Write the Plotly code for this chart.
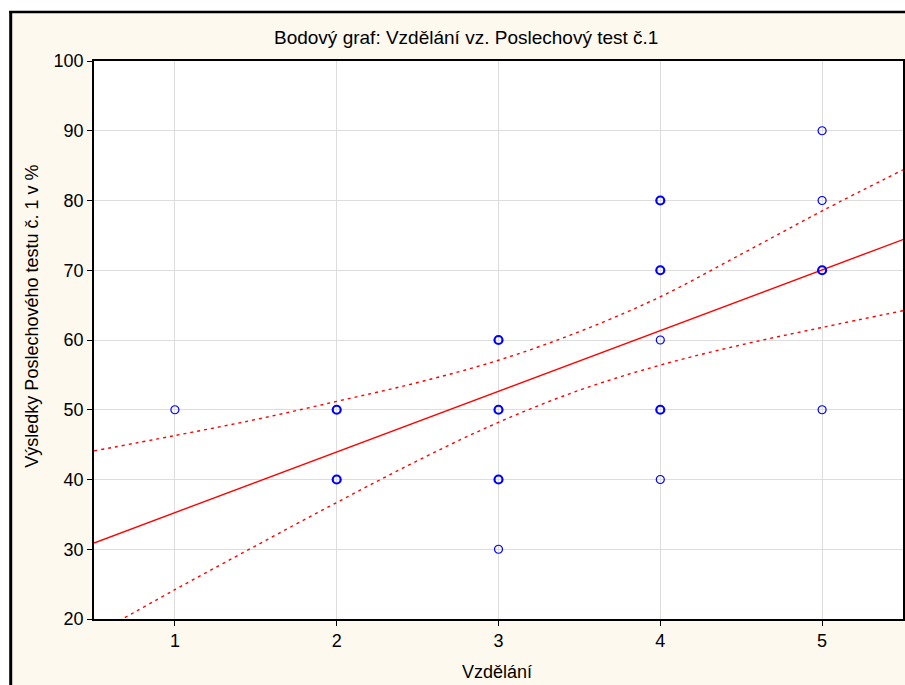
import plotly.graph_objects as go

# Data
edu_x = [1, 2, 2, 3, 3, 3, 3, 4, 4, 4, 4, 4, 5, 5, 5, 5]
score_y = [50, 50, 40, 60, 50, 40, 30, 80, 70, 60, 50, 40, 90, 80, 70, 50]
point_count = [1, 2, 2, 2, 2, 2, 1, 2, 2, 1, 2, 1, 1, 1, 2, 1]

fit_x = [0.5, 5.5]
fit_y = [30.9, 74.4]

band_x = [0.5, 1.0, 1.5, 2.0, 2.5, 3.0, 3.5, 4.0, 4.5, 5.0, 5.5]
band_upper = [44.1, 46.3, 48.6, 51.2, 53.9, 57.1, 61.2, 66.2, 72.3, 78.5, 84.4]
band_lower = [17.7, 24.2, 30.5, 36.7, 42.7, 48.2, 52.8, 56.4, 59.3, 61.8, 64.2]

x_ticks = [1, 2, 3, 4, 5]
y_ticks = [20, 30, 40, 50, 60, 70, 80, 90, 100]

title_text = "Bodový graf: Vzdělání vz. Poslechový test č.1"
x_title = "Vzdělání"
y_title = "Výsledky Poslechového testu č. 1 v %"

FONT = "Liberation Sans, Arial, sans-serif"
CREAM = "#FDF9EF"

fig = go.Figure()

fig.add_trace(go.Scatter(x=band_x, y=band_upper, mode="lines", line=dict(color="#FF0000", width=1.4, dash="3px,4px", shape="spline"), hoverinfo="skip", showlegend=False))
fig.add_trace(go.Scatter(x=band_x, y=band_lower, mode="lines", line=dict(color="#FF0000", width=1.4, dash="3px,4px", shape="spline"), hoverinfo="skip", showlegend=False))
fig.add_trace(go.Scatter(x=fit_x, y=fit_y, mode="lines", line=dict(color="#FF0000", width=1.4), showlegend=False))
fig.add_trace(go.Scatter(
    x=edu_x, y=score_y, mode="markers",
    marker=dict(symbol="circle-open", size=8, color="#0000FF",
                line=dict(color="#0000FF", width=[1.2 if c == 1 else 2.2 for c in point_count])),
    showlegend=False))

W, H = 905, 685
L, T, R, B = 94, 61, 0, 66
pw, ph = W - L - R, H - T - B

def px(x):
    return (x - L) / pw

def py(y):
    return (H - B - y) / ph

fig.update_layout(
    width=W, height=H,
    margin=dict(l=L, r=R, t=T, b=B),
    paper_bgcolor=CREAM, plot_bgcolor="white",
    font=dict(family=FONT, size=18, color="black"),
    xaxis=dict(range=[0.5, 5.5], tickvals=x_ticks, ticks="outside", ticklen=5, tickcolor="black",
               showline=True, linecolor="black", linewidth=1.5, mirror=True,
               showgrid=True, gridcolor="#DDDDDD", gridwidth=1, zeroline=False,
               tickfont=dict(size=18)),
    yaxis=dict(range=[20, 100], tickvals=y_ticks, ticks="outside", ticklen=5, tickcolor="black",
               showline=True, linecolor="black", linewidth=1.5, mirror=True,
               showgrid=True, gridcolor="#DDDDDD", gridwidth=1, zeroline=False,
               tickfont=dict(size=18)),
    shapes=[
        dict(type="rect", xref="paper", yref="paper", x0=px(-5), x1=px(9), y0=py(700), y1=py(-5), fillcolor="white", line=dict(width=0), layer="below"),
        dict(type="rect", xref="paper", yref="paper", x0=px(-5), x1=px(910), y0=py(11), y1=py(-5), fillcolor="white", line=dict(width=0), layer="below"),
        dict(type="line", xref="paper", yref="paper", x0=px(10.5), x1=px(10.5), y0=py(700), y1=py(11), line=dict(color="black", width=3), layer="below"),
        dict(type="line", xref="paper", yref="paper", x0=px(9), x1=px(910), y0=py(12), y1=py(12), line=dict(color="black", width=2.5), layer="below"),
    ],
    annotations=[
        dict(text=title_text, xref="paper", yref="paper", x=px(467), y=py(37), showarrow=False,
             xanchor="center", yanchor="middle", font=dict(size=19, family=FONT)),
        dict(text=x_title, xref="paper", yref="paper", x=px(497.5), y=py(672), showarrow=False,
             xanchor="center", yanchor="middle", font=dict(size=18, family=FONT)),
        dict(text=y_title, xref="paper", yref="paper", x=px(31), y=py(316.5), showarrow=False,
             xanchor="center", yanchor="middle", textangle=-90, font=dict(size=18, family=FONT)),
    ],
)

fig.write_html("out.html")
